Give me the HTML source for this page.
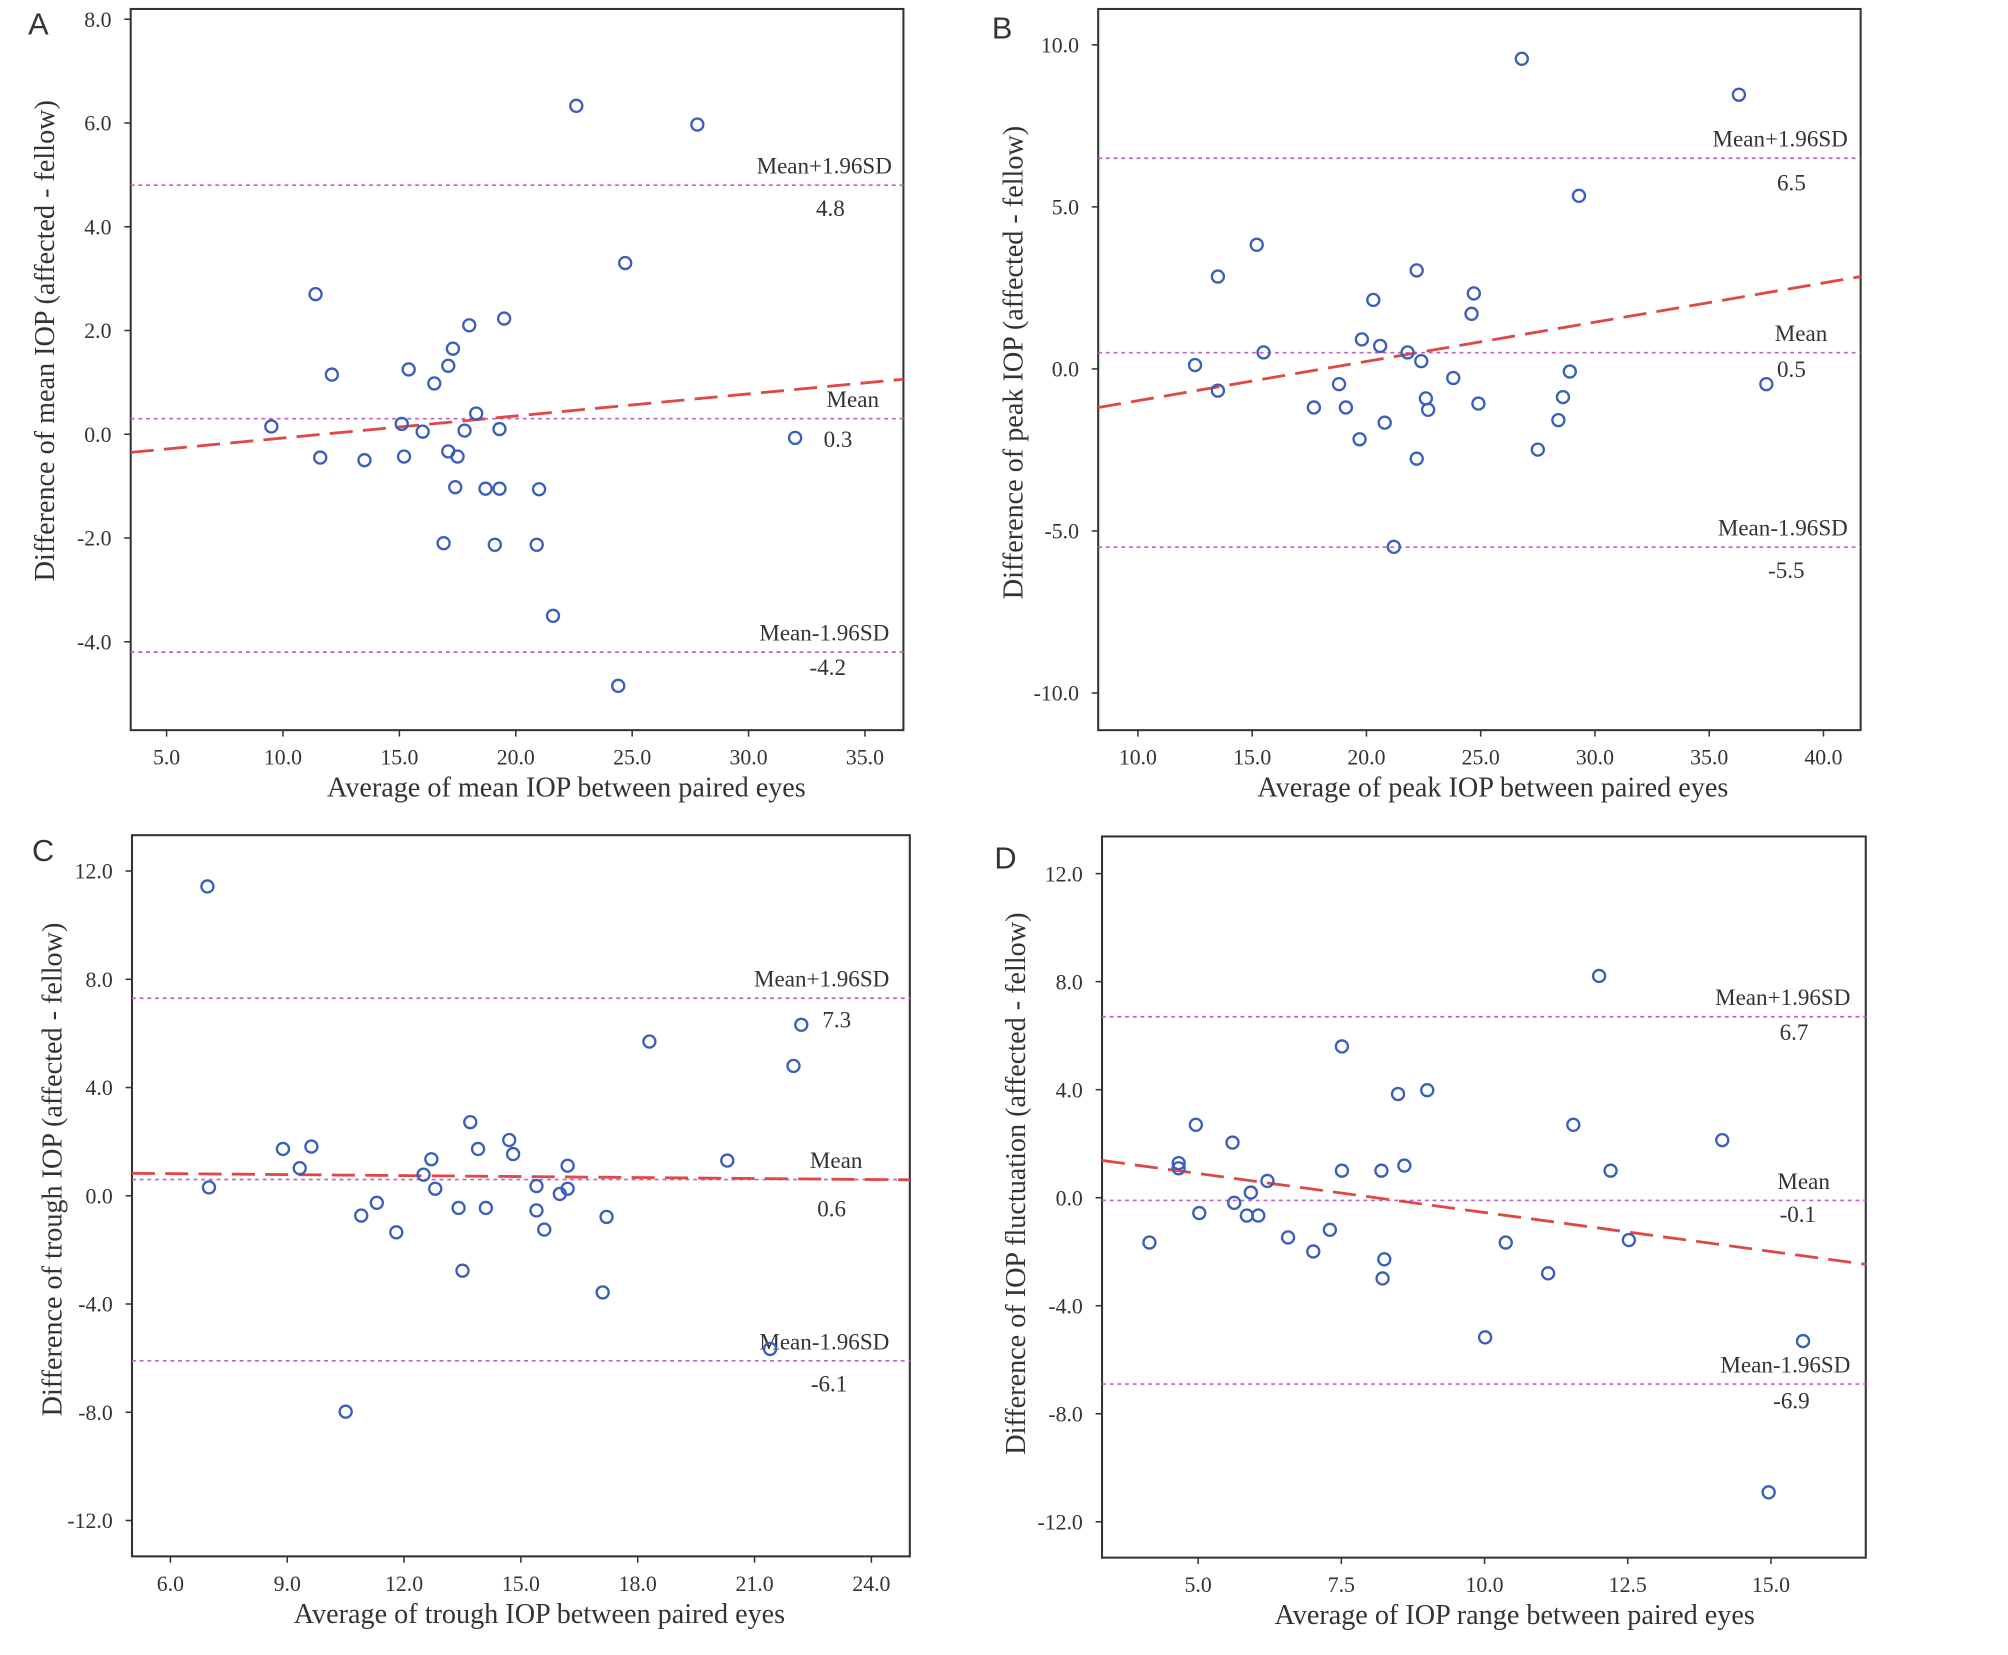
<!DOCTYPE html>
<html><head><meta charset="utf-8"><style>
html,body{margin:0;padding:0;background:#fff}
svg{display:block}
text{font-family:"Liberation Serif",serif;fill:#333}
</style></head><body>
<svg id="fig" width="2008" height="1655" viewBox="0 0 1567 1292" preserveAspectRatio="none" xmlns="http://www.w3.org/2000/svg"></svg>
<script>
// Panel A data
const aX=[9.5,11.4,11.6,12.1,13.5,15.1,15.2,15.4,16.0,16.5,16.9,17.1,17.1,17.3,17.5,17.4,17.8,18.0,18.3,18.7,19.1,19.3,19.3,19.5,20.9,21.0,21.6,22.6,24.4,24.7,27.8,32.0];
const aY=[0.15,2.7,-0.45,1.15,-0.5,0.2,-0.43,1.25,0.05,0.98,-2.1,1.32,-0.33,1.65,-0.43,-1.02,0.07,2.1,0.4,-1.05,-2.13,0.1,-1.05,2.23,-2.13,-1.06,-3.5,6.33,-4.85,3.3,5.97,-0.07];
const aLimits=[4.8,0.3,-4.2];
const aFit=[3.46,-0.35,36.65,1.06];
const aXTicks=["5.0","10.0","15.0","20.0","25.0","30.0","35.0"];
const aYTicks=["8.0","6.0","4.0","2.0","0.0","-2.0","-4.0"];
// Panel B data
const bX=[12.5,13.5,13.5,15.2,15.5,17.7,18.8,19.1,19.7,19.8,20.3,20.6,20.8,21.2,21.8,22.2,22.2,22.4,22.6,22.7,23.8,24.6,24.7,24.9,26.8,27.5,28.4,28.6,28.9,29.3,36.3,37.5];
const bY=[0.12,2.85,-0.67,3.83,0.51,-1.19,-0.47,-1.19,-2.17,0.91,2.13,0.71,-1.66,-5.49,0.51,3.04,-2.77,0.24,-0.91,-1.26,-0.28,1.7,2.33,-1.07,9.57,-2.49,-1.58,-0.87,-0.08,5.34,8.46,-0.47];
const bLimits=[6.5,0.5,-5.5];
const bFit=[8.26,-1.19,41.63,2.85];
const bXTicks=["10.0","15.0","20.0","25.0","30.0","35.0","40.0"];
const bYTicks=["10.0","5.0","0.0","-5.0","-10.0"];
// Panel C data
const cX=[6.95,6.99,8.89,9.32,9.62,10.5,10.9,11.3,11.8,12.5,12.7,12.8,13.4,13.5,13.7,13.9,14.1,14.7,14.8,15.4,15.4,15.6,16.0,16.2,16.2,17.1,17.2,18.3,20.3,21.4,22.0,22.2];
const cY=[11.43,0.31,1.73,1.02,1.82,-7.98,-0.73,-0.26,-1.35,0.78,1.35,0.26,-0.45,-2.77,2.72,1.73,-0.45,2.06,1.54,0.36,-0.54,-1.25,0.07,1.11,0.26,-3.57,-0.78,5.7,1.3,-5.66,4.8,6.32];
const cLimits=[7.3,0.6,-6.1];
const cFit=[5.01,0.83,24.99,0.59];
const cXTicks=["6.0","9.0","12.0","15.0","18.0","21.0","24.0"];
const cYTicks=["12.0","8.0","4.0","0.0","-4.0","-8.0","-12.0"];
// Panel D data
const dX=[4.15,4.66,4.66,4.96,5.02,5.6,5.63,5.85,5.92,6.05,6.21,6.57,7.01,7.3,7.51,7.51,8.2,8.22,8.25,8.49,8.6,9.0,10.01,10.37,11.11,11.55,12.0,12.2,12.52,14.15,14.96,15.56];
const dY=[-1.66,1.28,1.09,2.7,-0.57,2.04,-0.19,-0.66,0.19,-0.66,0.62,-1.47,-1.99,-1.19,5.6,1.0,1.0,-2.99,-2.28,3.84,1.19,3.98,-5.17,-1.66,-2.8,2.7,8.21,1.0,-1.57,2.13,-10.91,-5.31];
const dLimits=[6.7,-0.1,-6.9];
const dFit=[3.32,1.38,16.66,-2.47];
const dXTicks=["5.0","7.5","10.0","12.5","15.0"];
const dYTicks=["12.0","8.0","4.0","0.0","-4.0","-8.0","-12.0"];

const NS="http://www.w3.org/2000/svg";
const svg=document.getElementById('fig');
function mk(tag,attrs,parent,txt){const e=document.createElementNS(NS,tag);for(const k in attrs)e.setAttribute(k,attrs[k]);if(txt!==undefined)e.textContent=txt;(parent||svg).appendChild(e);return e;}

function panel(cfg){
  const g=mk('g',{});
  
  
  const sx=v=>cfg.px0+(v-cfg.vx0)*(cfg.px1-cfg.px0)/(cfg.vx1-cfg.vx0);
  const sy=v=>cfg.py0+(v-cfg.vy0)*(cfg.py1-cfg.py0)/(cfg.vy1-cfg.vy0);
  const f=cfg.frame;
  const fr=mk('rect',{x:f[0],y:f[1],width:f[2]-f[0],height:f[3]-f[1],fill:'none',stroke:'#333','stroke-width':1.6},g);
  
  
  cfg.xt.forEach(t=>{const x=sx(parseFloat(t));
    const l=mk('line',{x1:x,x2:x,y1:f[3],y2:f[3]+5,stroke:'#333','stroke-width':1.2},g);
    
    
    const tx=mk('text',{x:x,y:f[3]+27,'text-anchor':'middle','font-size':17},g,t);
    
    });
  cfg.yt.forEach(t=>{const y=sy(parseFloat(t));
    const l=mk('line',{x1:f[0]-5,x2:f[0],y1:y,y2:y,stroke:'#333','stroke-width':1.2},g);
    
    
    const tx=mk('text',{x:f[0]-15,y:y+6,'text-anchor':'end','font-size':17},g,t);
    
    });
  const names=['upper-limit','mean','lower-limit'];
  cfg.lim.forEach((v,i)=>{const y=sy(v);
    const l=mk('line',{x1:f[0],x2:f[2],y1:y,y2:y,stroke:'#c060c8','stroke-width':1.3,'stroke-dasharray':'3,3'},g);
    
    
    const lb=cfg.labels[i];
    const t1=mk('text',{x:lb[0],y:y-9,'text-anchor':'end','font-size':18},g,['Mean+1.96SD','Mean','Mean-1.96SD'][i]);
    
    
    const t2=mk('text',{x:lb[1],y:y+lb[2],'text-anchor':'middle','font-size':18},g,v.toFixed(1));
    
    });
  const fl=mk('line',{x1:sx(cfg.fit[0]),y1:sy(cfg.fit[1]),x2:sx(cfg.fit[2]),y2:sy(cfg.fit[3]),stroke:'#e04848','stroke-width':2.2,'stroke-dasharray':'18,8'},g);
  
  
  cfg.xs.forEach((x,i)=>{const c=mk('circle',{cx:sx(x),cy:sy(cfg.ys[i]),r:4.7,fill:'none',stroke:'#3a5fb5','stroke-width':1.8},g);
    
    });
  const xt=mk('text',{x:cfg.xtc,y:f[3]+52,'text-anchor':'middle','font-size':22},g,cfg.xtitle);
  
  
  const cy=cfg.ytc;
  const yt=mk('text',{x:cfg.ytx,y:cy,'text-anchor':'middle','font-size':22,transform:'rotate(-90 '+cfg.ytx+' '+cy+')'},g,cfg.ytitle);
  
  
  const pl=mk('text',{x:cfg.letter[0],y:cfg.letter[1],'font-size':24,style:'font-family:"Liberation Sans",sans-serif'},g,cfg.id);
  
  
}

panel({id:'A',frame:[102,7,705,570],px0:130,px1:675,vx0:5,vx1:35,py0:15,py1:501,vy0:8,vy1:-4,
  xt:aXTicks,yt:aYTicks,xs:aX,ys:aY,lim:aLimits,fit:aFit,
  labels:[[696,648,24],[686,654,22],[694,646,18]],xtc:442,ytc:266,
  xtitle:'Average of mean IOP between paired eyes',ytitle:'Difference of mean IOP (affected - fellow)',ytx:42,letter:[22,27]});
panel({id:'B',frame:[857,7,1452,570],px0:888,px1:1423,vx0:10,vx1:40,py0:35,py1:541,vy0:10,vy1:-10,
  xt:bXTicks,yt:bYTicks,xs:bX,ys:bY,lim:bLimits,fit:bFit,
  labels:[[1442,1398,25],[1426,1398,19],[1442,1394,24]],xtc:1165,ytc:283,
  xtitle:'Average of peak IOP between paired eyes',ytitle:'Difference of peak IOP (affected - fellow)',ytx:798,letter:[774,30]});
panel({id:'C',frame:[103,652,710,1215],px0:133,px1:680,vx0:6,vx1:24,py0:680,py1:1187,vy0:12,vy1:-12,
  xt:cXTicks,yt:cYTicks,xs:cX,ys:cY,lim:cLimits,fit:cFit,
  labels:[[694,653,23],[673,649,29],[694,647,24]],xtc:421,ytc:913,
  xtitle:'Average of trough IOP between paired eyes',ytitle:'Difference of trough IOP (affected - fellow)',ytx:48,letter:[25,672]});
panel({id:'D',frame:[860,653,1456,1216],px0:935,px1:1382,vx0:5,vx1:15,py0:682,py1:1188,vy0:12,vy1:-12,
  xt:dXTicks,yt:dYTicks,xs:dX,ys:dY,lim:dLimits,fit:dFit,
  labels:[[1444,1400,18],[1428,1403,17],[1444,1398,19]],xtc:1182,ytc:924,
  xtitle:'Average of IOP range between paired eyes',ytitle:'Difference of IOP fluctuation (affected - fellow)',ytx:800,letter:[776,678]});
</script>
</body></html>
